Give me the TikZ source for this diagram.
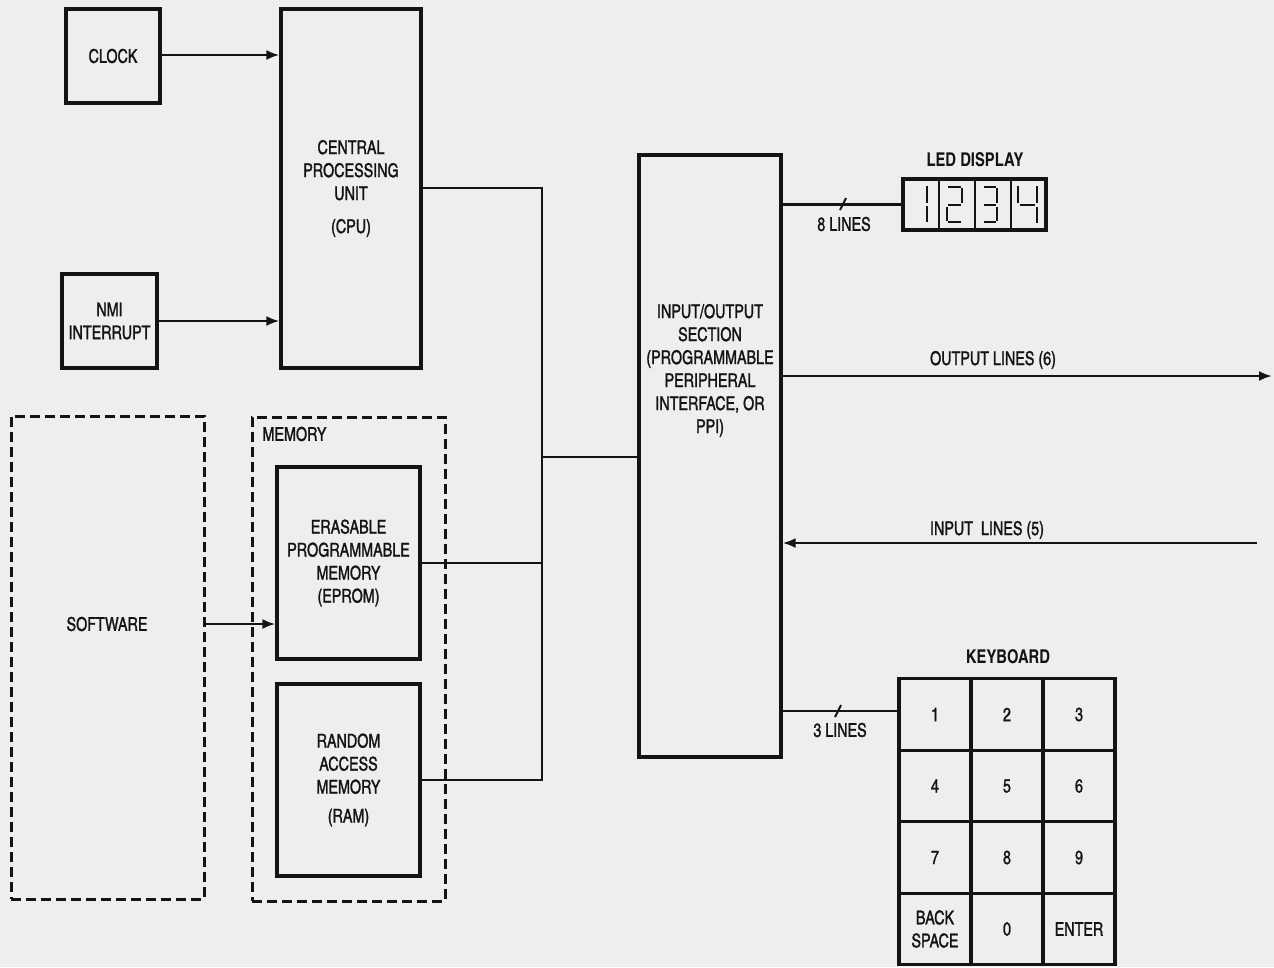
\documentclass[tikz,border=0pt]{standalone}
\usepackage{fontspec}
\setmainfont{texgyreheroscn}[Extension=.otf, UprightFont=*-regular, BoldFont=*-bold, ItalicFont=*-italic, BoldItalicFont=*-bolditalic, UprightFeatures={FakeBold=1.3, FakeStretch=0.92}, BoldFeatures={FakeStretch=0.95}]
\usetikzlibrary{arrows.meta}
\definecolor{paper}{RGB}{238,238,236}
\definecolor{ink}{RGB}{20,20,20}
\begin{document}
\begin{tikzpicture}[x=1pt,y=-1pt,
  every node/.style={font=\fontsize{19}{23}\selectfont, text=ink, align=center},
  blk/.style={draw=ink, line width=3.2pt, inner sep=0pt},
  dbox/.style={draw=ink, line width=3pt, dash pattern=on 10pt off 5pt, inner sep=0pt},
  conn/.style={draw=ink, line width=2.5pt},
  arr/.style={conn, -{Latex[length=13pt,width=10pt]}},
  seg/.style={draw=ink, line width=2.2pt},
  keybox/.style={blk, minimum width=72pt, minimum height=71.5pt},
  title/.style={font=\fontsize{19}{23}\selectfont\bfseries}
]
\fill[paper] (0,0) rectangle (1274,967);
\useasboundingbox (0,0) rectangle (1274,967);

% boxes
\node[blk, minimum width=94pt, minimum height=94pt] (clock) at (113,56) {CLOCK};
\node[blk, minimum width=140pt, minimum height=359pt] (cpu) at (351,188.5) {CENTRAL\\PROCESSING\\UNIT\\[10pt](CPU)};
\node[blk, minimum width=95pt, minimum height=94pt] (nmi) at (109.5,321) {NMI\\INTERRUPT};
\node[blk, minimum width=142pt, minimum height=602pt] (io) at (710,456) {};
\node (iotext) at (710,370.5) {INPUT/OUTPUT\\SECTION\\(PROGRAMMABLE\\PERIPHERAL\\INTERFACE, OR\\PPI)};

% software and memory
\node[dbox, minimum width=193pt, minimum height=483pt] (soft) at (107.5,657.5) {};
\node (softtext) at (107,624) {SOFTWARE};
\node[dbox, minimum width=193pt, minimum height=484pt] (mem) at (348.5,659) {};
\node[anchor=west] (memtext) at (259,434) {MEMORY};
\node[blk, minimum width=143pt, minimum height=192pt] (eprom) at (348.5,563) {ERASABLE\\PROGRAMMABLE\\MEMORY\\(EPROM)};
\node[blk, minimum width=143pt, minimum height=192pt] (ram) at (348.5,780) {RANDOM\\ACCESS\\MEMORY\\[6pt](RAM)};

% LED display
\node[title] (ledtitle) at (975,160) {LED DISPLAY};
\node[blk, minimum width=143pt, minimum height=51pt] (led) at (974.5,204.5) {};
\draw[ink, line width=2.8pt] (939,179) -- (939,230) (975,179) -- (975,230) (1011,179) -- (1011,230);
% digit 1
\draw[seg] (927,186) -- (927,203) (927,206) -- (927,222);
% digit 2
\draw[seg] (948,187) -- (961,187) (962,188) -- (962,203) (948,205) -- (961,205) (947,207) -- (947,221) (948,222) -- (961,222);
% digit 3
\draw[seg] (984,187) -- (996,187) (997,188) -- (997,203) (984,205) -- (996,205) (997,207) -- (997,221) (984,222) -- (996,222);
% digit 4
\draw[seg] (1018,186) -- (1018,203) (1020,205) -- (1035,205) (1037,186) -- (1037,203) (1037,207) -- (1037,223);

% keyboard
\node[title] (kbtitle) at (1008,657) {KEYBOARD};
\node[keybox] (k1) at (935,714.5) {1};
\node[keybox] (k2) at (1007,714.5) {2};
\node[keybox] (k3) at (1079,714.5) {3};
\node[keybox] (k4) at (935,786) {4};
\node[keybox] (k5) at (1007,786) {5};
\node[keybox] (k6) at (1079,786) {6};
\node[keybox] (k7) at (935,857.5) {7};
\node[keybox] (k8) at (1007,857.5) {8};
\node[keybox] (k9) at (1079,857.5) {9};
\node[keybox] (kb) at (935,929) {BACK\\SPACE};
\node[keybox] (k0) at (1007,929) {0};
\node[keybox] (ke) at (1079,929) {ENTER};

% connectors
\draw[arr] (clock.east |- 0,55) -- (cpu.west |- 0,55);
\draw[arr] (nmi.east) -- (nmi.east -| cpu.west);
\coordinate (bustop) at (542,188);
\coordinate (busbot) at (542,780);
\draw[conn] (cpu.east |- bustop) -- (bustop) -- (busbot) -- (ram.east);
\draw[conn] (eprom.east) -- (eprom.east -| bustop);
\draw[conn] (bustop |- 0,457) -- (io.west |- 0,457);
\draw[arr] (soft.east |- 0,624) -- (eprom.west |- 0,624);

% LED lines
\draw[conn] (io.east |- led.west) -- (led.west);
\draw[ink, line width=2pt] (840,210) -- (846,198);
\node (eightl) at (844,224) {8 LINES};

% output
\coordinate (outend) at (1272,376);
\draw[arr] (io.east |- outend) -- (outend);
\node (outl) at (993,360) {OUTPUT LINES (6)};

% input
\coordinate (instart) at (1257,543);
\draw[arr] (instart) -- (io.east |- instart);
\node (inl) at (987,530) {INPUT\ \ LINES (5)};

% keyboard lines
\draw[conn] (io.east |- 0,711) -- (k1.west |- 0,711);
\draw[ink, line width=2pt] (835,717) -- (841,705);
\node (threel) at (840,730) {3 LINES};
\end{tikzpicture}
\end{document}
